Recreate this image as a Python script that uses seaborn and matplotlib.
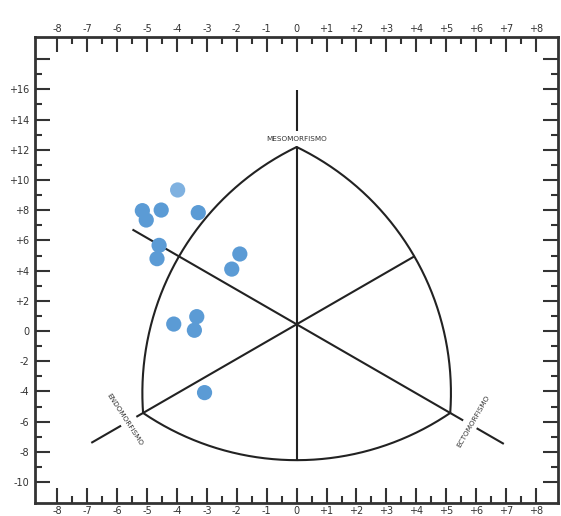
import numpy as np
import pandas as pd
import matplotlib
matplotlib.use("Agg")
import matplotlib.pyplot as plt
import seaborn as sns

# Somatotype coordinates (X = ecto - endo, Y = 2*meso - endo - ecto)
somato_x = [-3.98, -5.16, -5.03, -4.53, -3.29, -4.60, -4.67, -1.90, -2.17, -4.11, -3.34, -3.42, -3.08]
somato_y = [9.34, 7.97, 7.35, 8.01, 7.84, 5.67, 4.79, 5.10, 4.10, 0.46, 0.95, 0.05, -4.08]
grupo = ["medio", "ind", "ind", "ind", "ind", "ind", "ind", "ind", "ind", "ind", "ind", "ind", "ind"]

x_ticks = list(range(-8, 9))
x_labels = [("+%d" % v) if v > 0 else str(v) for v in x_ticks]
y_ticks = list(range(-10, 19, 2))
y_labels = [("+%d" % v) if v > 0 else str(v) for v in y_ticks]
y_labels[-1] = ""  # +18 carries no label

axis_names = ["MESOMORFISMO", "ENDOMORFISMO", "ECTOMORFISMO"]

df = pd.DataFrame({"x": somato_x, "y": somato_y, "grupo": grupo})

sns.set_theme(style="white")
plt.rcParams["font.family"] = ["DejaVu Sans"]

fig = plt.figure(figsize=(5.61, 5.16), dpi=100)
ax = fig.add_axes([35 / 561, 1 - 503 / 516, (558 - 35) / 561, (503 - 37) / 516])
ax.set_xlim(-8.75, 8.74)
ax.set_ylim(-11.39, 19.47)

# Y units per visual x unit (the chart's vertical axis is compressed 2:1)
K = 29.9 / 15.1
ink = "#222222"
lw = 1.5


def dirv(deg):
    a = np.deg2rad(deg)
    return np.array([np.cos(a), np.sin(a)])


def to_data(p):
    return p[0], p[1] * K


c = np.array([0.0, 0.224])   # triangle centre (visual units)
r = 5.93                      # centre-to-vertex distance
d = 4.6                       # centre-to-arc-centre distance
verts = {90: c + r * dirv(90), 210: c + r * dirv(210), 330: c + r * dirv(330)}


def seg(a, b):
    xa, ya = to_data(a)
    xb, yb = to_data(b)
    ax.plot([xa, xb], [ya, yb], color=ink, lw=lw, solid_capstyle="butt", zorder=2)


# Curved sides: each arc bulges away from the opposite vertex
rho = None
for opp, (v1, v2) in {90: (210, 330), 210: (330, 90), 330: (90, 210)}.items():
    C = c + d * dirv(opp)
    P1, P2 = verts[v1], verts[v2]
    rho = np.linalg.norm(P1 - C)
    mid = np.deg2rad(opp + 180)

    def rel(P):
        a = np.arctan2(P[1] - C[1], P[0] - C[0]) - mid
        return (a + np.pi) % (2 * np.pi) - np.pi

    t = mid + np.linspace(rel(P1), rel(P2), 200)
    xs = C[0] + rho * np.cos(t)
    ys = (C[1] + rho * np.sin(t)) * K
    ax.plot(xs, ys, color=ink, lw=lw, zorder=2)

inner = rho - d
# Vertical axis
seg(c + inner * dirv(270), verts[90])
seg(c + 6.46 * dirv(90), c + 7.84 * dirv(90))
# Axis through the ectomorph vertex
seg(c + 6.34 * dirv(150), c + 6.43 * dirv(330))
seg(c + 6.95 * dirv(330), c + 8.0 * dirv(330))
# Axis through the endomorph vertex
seg(c + inner * dirv(30), c + 6.19 * dirv(210))
seg(c + 6.78 * dirv(210), c + 7.93 * dirv(210))

lab_kw = dict(fontsize=5.2, color="#333333", ha="center", va="center", zorder=3)
mx, my = to_data(c + 6.2 * dirv(90))
ax.text(mx, my, axis_names[0], rotation=0, **lab_kw)
ax.text(-5.77, -5.83, axis_names[1], rotation=-57, **lab_kw)
ax.text(5.9, -5.96, axis_names[2], rotation=60, **lab_kw)

sns.scatterplot(data=df, x="x", y="y", hue="grupo",
                palette={"ind": "#5B9BD5", "medio": "#7FB1E0"},
                s=120, linewidth=0, legend=False, zorder=4, ax=ax)

# Frame and ticks
for sp in ax.spines.values():
    sp.set_visible(True)
    sp.set_linewidth(2.0)
    sp.set_color("#333333")

ax.set_xticks(x_ticks)
ax.set_xticklabels(x_labels)
ax.set_xticks(np.arange(-7.5, 8.0, 1.0), minor=True)
ax.set_yticks(y_ticks)
ax.set_yticklabels(y_labels)
ax.set_yticks(list(range(-9, 18, 2)), minor=True)

ax.tick_params(which="both", direction="in", color="#333333", width=1.5,
               top=True, bottom=True, left=True, right=True,
               labeltop=True, labelbottom=True, labelleft=True, labelright=False)
ax.tick_params(which="major", length=10.5, labelsize=7, labelcolor="#333333")
ax.tick_params(which="minor", length=5)
ax.tick_params(axis="x", which="major", pad=2)
ax.tick_params(axis="y", which="major", pad=4)
ax.set_xlabel("")
ax.set_ylabel("")
ax.grid(False)

fig.savefig("out.png", dpi=100)
